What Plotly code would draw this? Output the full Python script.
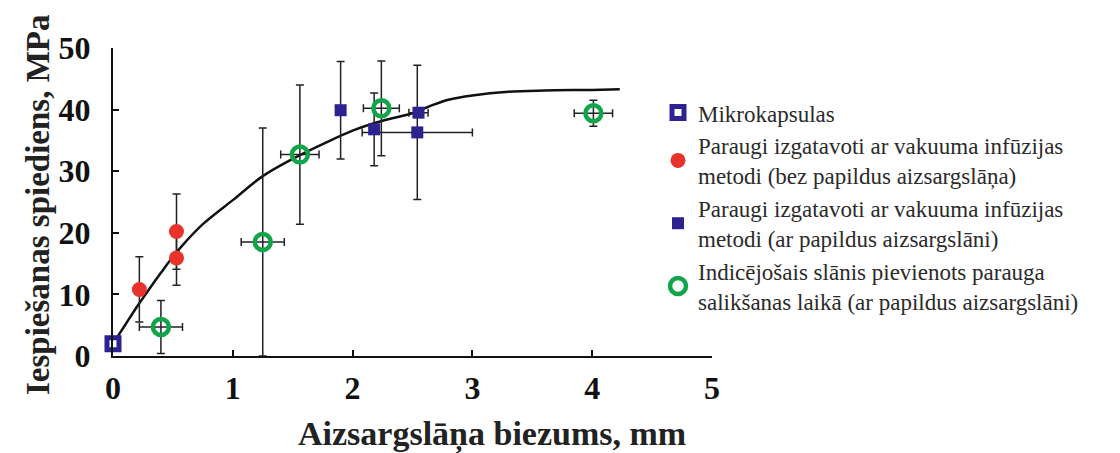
import plotly.graph_objects as go

# Fitted trend curve (thickness, mm -> pressure, MPa)
curve_x = [0.0, 0.1, 0.2, 0.3, 0.4, 0.5, 0.6, 0.75, 1.0, 1.25, 1.5, 1.75, 2.0, 2.25,
           2.5, 2.65, 2.8, 3.0, 3.3, 3.6, 4.0, 4.23]
curve_y = [2.0, 5.0, 8.0, 10.8, 13.5, 16.1, 18.4, 21.4, 25.3, 29.2, 32.0, 34.4, 36.6, 38.2,
           39.4, 40.6, 41.6, 42.3, 42.9, 43.1, 43.2, 43.3]

# Microcapsules
mk_x = [0.0]
mk_y = [2.0]

# Vacuum infusion, without extra protective layer
red_x = [0.22, 0.53, 0.53]
red_y = [10.8, 20.2, 15.9]
red_yerr = [5.3, 6.1, 4.4]

# Vacuum infusion, with extra protective layer
blue_x = [1.90, 2.18, 2.54, 2.55]
blue_y = [39.9, 36.8, 36.3, 39.5]
blue_yerr = [7.9, 5.9, 10.9, 0.0]
blue_xerr = [0.0, 0.0, 0.46, 0.08]

# Indicator layer added during assembly
green_x = [0.40, 1.25, 1.56, 2.24, 4.01]
green_y = [4.7, 18.5, 32.7, 40.2, 39.4]
green_yerr = [4.3, 18.5, 11.3, 7.7, 2.1]
green_xerr = [0.18, 0.18, 0.16, 0.15, 0.16]

names = [
    "Mikrokapsulas",
    "Paraugi izgatavoti ar vakuuma infūzijas<br>metodi (bez papildus aizsargslāņa)",
    "Paraugi izgatavoti ar vakuuma infūzijas<br>metodi (ar papildus aizsargslāni)",
    "Indicējošais slānis pievienots parauga<br>salikšanas laikā (ar papildus aizsargslāni)",
]

x_ticks = [0, 1, 2, 3, 4, 5]
y_ticks = [0, 10, 20, 30, 40, 50]

BLUE = "#2d2390"
RED = "#e8322b"
GREEN = "#11a54a"
ERR = "#222222"
SERIF = "Liberation Serif, Times New Roman, serif"

def errbar(vals, width=4):
    return dict(type="data", array=vals, visible=True, color=ERR, thickness=1.5, width=width)

fig = go.Figure()

fig.add_trace(go.Scatter(
    x=curve_x, y=curve_y, mode="lines", line=dict(color="#111111", width=2.5, shape="spline"),
    showlegend=False, hoverinfo="skip"))

fig.add_trace(go.Scatter(
    x=mk_x, y=mk_y, mode="markers", name=names[0], cliponaxis=False,
    marker=dict(symbol="square", size=12, color="white", line=dict(color=BLUE, width=5))))

fig.add_trace(go.Scatter(
    x=red_x, y=red_y, mode="markers", name=names[1], cliponaxis=False,
    error_y=errbar(red_yerr),
    marker=dict(symbol="circle", size=15, color=RED)))

fig.add_trace(go.Scatter(
    x=blue_x, y=blue_y, mode="markers", name=names[2], cliponaxis=False,
    error_y=errbar(blue_yerr), error_x=errbar(blue_xerr),
    marker=dict(symbol="square", size=12, color=BLUE)))

fig.add_trace(go.Scatter(
    x=green_x, y=green_y, mode="markers", name=names[3], cliponaxis=False,
    error_y=errbar(green_yerr), error_x=errbar(green_xerr),
    marker=dict(symbol="circle-open", size=16, color=GREEN, line=dict(color=GREEN, width=4.5))))

axis_common = dict(
    showgrid=False, zeroline=False, showline=True, linecolor="#111111", linewidth=2,
    ticks="inside", ticklen=6, tickwidth=2, tickcolor="#111111",
    tickfont=dict(family=SERIF, size=32, color="#111111", weight="bold"),
)

fig.update_xaxes(range=[0, 5], tickvals=x_ticks, ticklabelstandoff=3, **axis_common)
fig.update_yaxes(range=[0, 50], tickvals=y_ticks, ticklabelstandoff=14, **axis_common)

fig.add_annotation(text="<b>Aizsargslāņa biezums, mm</b>", xref="paper", yref="paper",
                   x=(492 - 113) / 599, y=-(434 - 356) / 308, xanchor="center", yanchor="middle",
                   showarrow=False, font=dict(family=SERIF, size=34, color="#222222"))
fig.add_annotation(text="<b>Iespiešanas spiediens, MPa</b>", xref="paper", yref="paper",
                   x=-(113 - 38) / 599, y=(356 - 205) / 308, xanchor="center", yanchor="middle",
                   textangle=-90, showarrow=False,
                   font=dict(family=SERIF, size=33, color="#222222"))

fig.update_layout(
    width=1120, height=453,
    margin=dict(l=113, r=408, t=48, b=97),
    paper_bgcolor="white", plot_bgcolor="white",
    legend=dict(x=(658 - 113) / 599, y=0.86, xanchor="left", yanchor="top",
                font=dict(family=SERIF, size=23, color="#2a2a2a"),
                bgcolor="rgba(0,0,0,0)", itemclick=False),
)

fig.write_html("out.html")
